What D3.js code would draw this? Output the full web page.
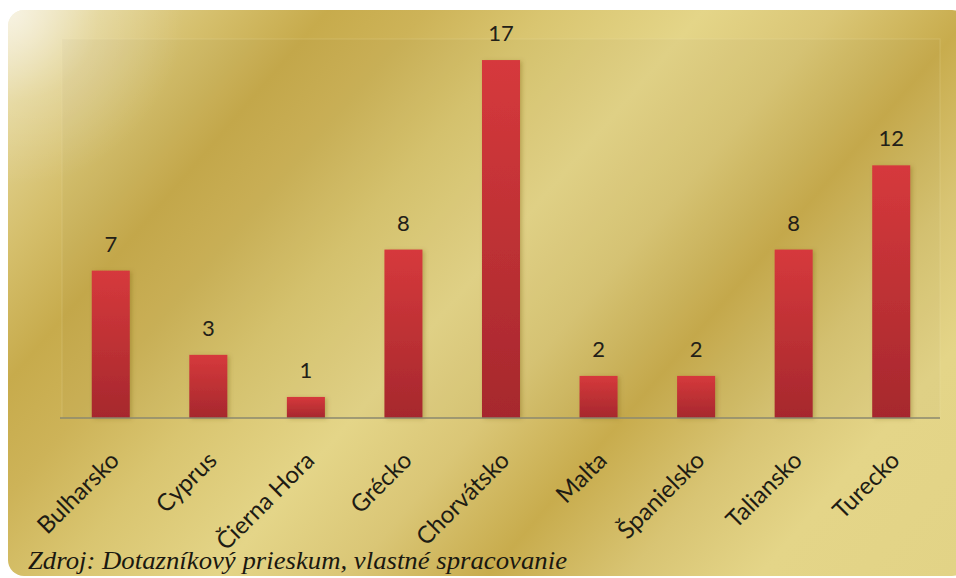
<!DOCTYPE html>
<html>
<head>
<meta charset="utf-8">
<script src="https://cdnjs.cloudflare.com/ajax/libs/d3/7.8.5/d3.min.js"></script>
<style>
  html, body { margin: 0; padding: 0; background: #ffffff; }
  svg { display: block; }
</style>
</head>
<body>
<svg id="chart" width="956" height="578"></svg>
<script>
// Destinations and number of respondents
const categories = ["Bulharsko", "Cyprus", "Čierna Hora", "Grécko", "Chorvátsko", "Malta", "Španielsko", "Taliansko", "Turecko"];
const values = [7, 3, 1, 8, 17, 2, 2, 8, 12];
const sourceNote = "Zdroj: Dotazníkový prieskum, vlastné spracovanie";

const plot = { left: 62, right: 940, top: 39, bottom: 418 };

const svg = d3.select("#chart");
const defs = svg.append("defs");

// Gold backdrop: bands of light and shade running diagonally
const span = 1100;
const dir = [0.758, 0.653];
const bg = defs.append("linearGradient")
  .attr("id", "gold")
  .attr("gradientUnits", "userSpaceOnUse")
  .attr("x1", 0).attr("y1", 0)
  .attr("x2", dir[0] * span).attr("y2", dir[1] * span);
const goldStops = [
  [0, "#efe6c6"], [80, "#e2d393"], [170, "#d5bf6c"], [255, "#c7ab4c"],
  [330, "#cdb358"], [420, "#d9c570"], [540, "#e4d588"], [640, "#dac676"],
  [745, "#c8ac4d"], [850, "#d8c473"], [950, "#e4d588"], [1100, "#e2d386"]
];
goldStops.forEach(([t, c]) => bg.append("stop").attr("offset", t / span).attr("stop-color", c));

// Whitish sheen in the upper-left corner
const sheen = defs.append("radialGradient")
  .attr("id", "sheen").attr("gradientUnits", "userSpaceOnUse")
  .attr("cx", 14).attr("cy", 16).attr("r", 170);
sheen.append("stop").attr("offset", 0).attr("stop-color", "#ffffff").attr("stop-opacity", 0.55);
sheen.append("stop").attr("offset", 0.5).attr("stop-color", "#ffffff").attr("stop-opacity", 0.15);
sheen.append("stop").attr("offset", 1).attr("stop-color", "#ffffff").attr("stop-opacity", 0);

// Bar fill: red fading darker towards the base
const barGrad = defs.append("linearGradient")
  .attr("id", "barFill").attr("x1", 0).attr("y1", 0).attr("x2", 0).attr("y2", 1);
barGrad.append("stop").attr("offset", 0).attr("stop-color", "#d6393c");
barGrad.append("stop").attr("offset", 1).attr("stop-color", "#a6282d");

const shadow = defs.append("filter").attr("id", "barShadow")
  .attr("x", "-30%").attr("y", "-10%").attr("width", "160%").attr("height", "130%");
shadow.append("feDropShadow").attr("dx", 2).attr("dy", 1).attr("stdDeviation", 2)
  .attr("flood-color", "#6b5410").attr("flood-opacity", 0.3);

// Panel
svg.append("rect")
  .attr("x", 8).attr("y", 10).attr("width", 960).attr("height", 566)
  .attr("rx", 16).attr("fill", "url(#gold)");
svg.append("rect")
  .attr("x", 8).attr("y", 10).attr("width", 960).attr("height", 566)
  .attr("rx", 16).attr("fill", "url(#sheen)");

// Plot area (faint)
svg.append("rect")
  .attr("x", plot.left).attr("y", plot.top)
  .attr("width", plot.right - plot.left).attr("height", plot.bottom - plot.top)
  .attr("fill", "#000000").attr("fill-opacity", 0.02)
  .attr("stroke", "#f3e8b8").attr("stroke-opacity", 0.2).attr("stroke-width", 1);

// Scales
const x = d3.scaleBand()
  .domain(categories)
  .range([plot.left, plot.right])
  .paddingInner(0.61).paddingOuter(0.305);

const y = d3.scaleLinear()
  .domain([0, 18])
  .range([plot.bottom, plot.top]);

const data = categories.map((c, i) => ({ name: c, value: values[i] }));

// Bars
svg.append("g").selectAll("rect")
  .data(data).join("rect")
  .attr("x", d => x(d.name))
  .attr("y", d => y(d.value))
  .attr("width", x.bandwidth())
  .attr("height", d => y(0) - y(d.value))
  .attr("fill", "url(#barFill)")
  .attr("filter", "url(#barShadow)");

// Category axis line
const xAxis = d3.axisBottom(x).tickSize(0).tickFormat("");
const axisG = svg.append("g")
  .attr("transform", `translate(0,${plot.bottom})`)
  .call(xAxis);
axisG.select(".domain")
  .attr("d", `M${plot.left - 2},0H${plot.right}`)
  .attr("stroke", "#8a876c").attr("stroke-width", 1.5);

// Value labels
svg.append("g").selectAll("text")
  .data(data).join("text")
  .attr("x", d => x(d.name) + x.bandwidth() / 2)
  .attr("y", d => y(d.value) - 19)
  .attr("text-anchor", "middle")
  .attr("font-family", "Lato, 'Open Sans', sans-serif")
  .attr("font-size", 22)
  .attr("fill", "#222018")
  .text(d => d.value);

// Category labels, rotated
svg.append("g").selectAll("text")
  .data(data).join("text")
  .attr("transform", d => `translate(${x(d.name) + x.bandwidth() / 2 + 4},${plot.bottom + 38}) rotate(-45)`)
  .attr("text-anchor", "end")
  .attr("dy", "0.35em")
  .attr("font-family", "Lato, 'Open Sans', sans-serif")
  .attr("font-size", 24)
  .attr("fill", "#1e1c14")
  .text(d => d.name);

// Source note
svg.append("text")
  .attr("x", 28).attr("y", 569)
  .attr("font-family", "'Liberation Serif', 'DejaVu Serif', serif")
  .attr("font-style", "italic")
  .attr("font-size", 26)
  .attr("fill", "#1a1810")
  .attr("textLength", 539)
  .attr("lengthAdjust", "spacingAndGlyphs")
  .text(sourceNote);
</script>
</body>
</html>
